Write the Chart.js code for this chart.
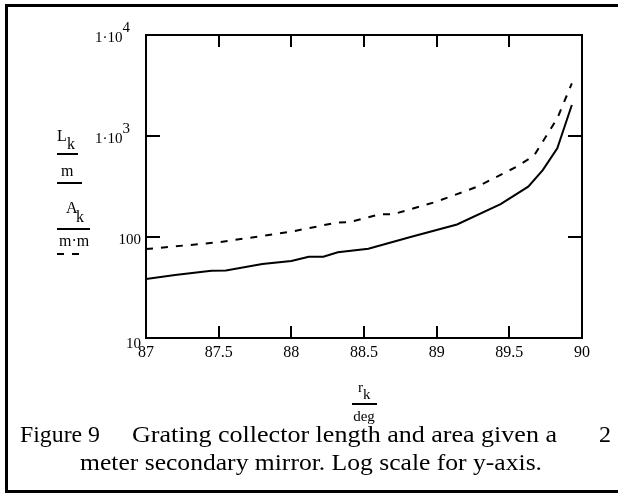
<!DOCTYPE html>
<html>
<head>
<meta charset="utf-8">
<script src="https://cdn.jsdelivr.net/npm/chart.js@4.4.1/dist/chart.umd.min.js"></script>
<style>
  html, body { margin: 0; padding: 0; background: #fff; }
  #wrap { position: relative; width: 618px; height: 494px; }
</style>
</head>
<body>
<div id="wrap"><canvas id="c" width="618" height="494"></canvas></div>
<script>
// ---- data ----
const lengthAngles = [87.0, 87.2, 87.45, 87.55, 87.8, 88.0, 88.12, 88.22, 88.32, 88.53, 88.82, 89.14, 89.44, 89.63, 89.73, 89.83, 89.93];
const lengthValues = [38.4, 42, 46.4, 46.6, 54, 57.8, 63.8, 63.8, 70.6, 76.6, 100, 133, 212, 315, 460, 755, 2030];
const areaAngles = [87.0, 87.5, 88.0, 88.31, 88.40, 88.61, 88.70, 89.0, 89.28, 89.55, 89.64, 89.68, 89.83, 89.93];
const areaValues = [76, 88.6, 113, 138.6, 140, 168, 168, 224, 315, 497, 600, 674, 1497, 3315];
const xTickValues = [87, 87.5, 88, 88.5, 89, 89.5, 90];
const xTickLabels = ["87", "87.5", "88", "88.5", "89", "89.5", "90"];
const yTickValues = [10, 100, 1000, 10000];
const yTickLabels = ["10", "100", "1·10^3", "1·10^4"];
const innerYTicks = [100, 1000];
const innerXTicks = [87.5, 88, 88.5, 89, 89.5];
const captionLine1a = "Figure 9";
const captionLine1b = "Grating collector length and area given a";
const captionLine1c = "2";
const captionLine2 = "meter secondary mirror. Log scale for y-axis.";

const SERIF = '"Liberation Serif", "Times New Roman", serif';

// draw text horizontally scaled to span [x0, x1]
function drawSpan(ctx, text, x0, x1, y) {
  const w = ctx.measureText(text).width;
  const sx = (x1 - x0) / w;
  ctx.save();
  ctx.translate(x0, y);
  ctx.scale(sx, 1);
  ctx.textAlign = 'left';
  ctx.fillText(text, 0, 0);
  ctx.restore();
}

const decor = {
  id: 'decor',
  afterDraw(chart) {
    const ctx = chart.ctx;
    const a = chart.chartArea;
    const xs = chart.scales.x, ys = chart.scales.y;
    ctx.save();
    ctx.strokeStyle = '#000';
    ctx.fillStyle = '#000';
    // outer frame
    ctx.lineWidth = 3;
    ctx.strokeRect(6.5, 5.5, 620, 486);
    // plot box
    ctx.lineWidth = 2;
    ctx.strokeRect(a.left, a.top, a.right - a.left, a.bottom - a.top);
    // inward ticks
    ctx.beginPath();
    innerYTicks.forEach(v => {
      const y = Math.round(ys.getPixelForValue(v));
      ctx.moveTo(a.left, y); ctx.lineTo(a.left + 14, y);
      ctx.moveTo(a.right, y); ctx.lineTo(a.right - 14, y);
    });
    innerXTicks.forEach(v => {
      const x = Math.round(xs.getPixelForValue(v));
      ctx.moveTo(x, a.bottom); ctx.lineTo(x, a.bottom - 12);
      ctx.moveTo(x, a.top); ctx.lineTo(x, a.top + 12);
    });
    ctx.stroke();
    // y tick labels (with exponents)
    ctx.textBaseline = 'alphabetic';
    yTickValues.forEach((v, i) => {
      const y = ys.getPixelForValue(v);
      const lab = yTickLabels[i];
      ctx.font = '15px ' + SERIF;
      ctx.textAlign = 'right';
      if (lab.includes('^')) {
        const [base, ex] = lab.split('^');
        const exRight = a.left - 16;
        ctx.fillText(ex, exRight, y - 3);
        const exW = ctx.measureText(ex).width;
        ctx.fillText(base, exRight - exW, y + 7);
      } else {
        ctx.fillText(lab, a.left - 5, y + (v === 10 ? 10 : 7));
      }
    });
    // left legend labels
    ctx.textAlign = 'left';
    ctx.font = '16px ' + SERIF;
    ctx.fillText('L', 57, 141);
    ctx.fillText('k', 67, 149);
    ctx.fillText('m', 61, 176);
    ctx.fillText('A', 66, 213);
    ctx.fillText('k', 76, 222);
    ctx.fillText('m·m', 59, 246);
    ctx.lineWidth = 2;
    ctx.beginPath();
    ctx.moveTo(57, 154); ctx.lineTo(78, 154);
    ctx.moveTo(57, 183); ctx.lineTo(82, 183);
    ctx.moveTo(57, 229); ctx.lineTo(90, 229);
    ctx.stroke();
    ctx.beginPath();
    ctx.moveTo(57, 254); ctx.lineTo(64, 254);
    ctx.moveTo(72, 254); ctx.lineTo(79, 254);
    ctx.stroke();
    // x axis label r_k / deg
    ctx.font = '15px ' + SERIF;
    ctx.fillText('r', 358, 392);
    ctx.fillText('k', 363, 399);
    ctx.beginPath();
    ctx.moveTo(352, 404); ctx.lineTo(377, 404);
    ctx.stroke();
    ctx.textAlign = 'center';
    ctx.fillText('deg', 364, 421);
    // caption
    ctx.font = '24px ' + SERIF;
    drawSpan(ctx, captionLine1a, 20, 100, 442);
    drawSpan(ctx, captionLine1b, 132, 557, 442);
    drawSpan(ctx, captionLine1c, 599, 611, 442);
    drawSpan(ctx, captionLine2, 80, 542, 470);
    ctx.restore();
  }
};

new Chart(document.getElementById('c'), {
  type: 'line',
  data: {
    datasets: [
      {
        label: 'L_k / m',
        data: lengthAngles.map((x, i) => ({ x: x, y: lengthValues[i] })),
        borderColor: '#000',
        borderWidth: 2,
        pointRadius: 0,
        fill: false,
        tension: 0
      },
      {
        label: 'A_k / m·m',
        data: areaAngles.map((x, i) => ({ x: x, y: areaValues[i] })),
        borderColor: '#000',
        borderWidth: 2,
        borderDash: [7, 8],
        pointRadius: 0,
        fill: false,
        tension: 0
      }
    ]
  },
  options: {
    responsive: false,
    animation: false,
    devicePixelRatio: 1,
    layout: { padding: { left: 0, top: 35, right: 36, bottom: 132 } },
    plugins: { legend: { display: false }, tooltip: { enabled: false } },
    scales: {
      x: {
        type: 'linear',
        min: 87, max: 90,
        afterBuildTicks: s => { s.ticks = xTickValues.map(v => ({ value: v })); },
        afterFit: s => { s.height = 24; },
        grid: { display: false, drawTicks: false },
        border: { display: false },
        ticks: {
          padding: 5,
          color: '#000',
          font: { family: SERIF, size: 16 },
          maxRotation: 0,
          autoSkip: false,
          callback: (v) => { const i = xTickValues.indexOf(v); return i >= 0 ? xTickLabels[i] : ''; }
        }
      },
      y: {
        type: 'logarithmic',
        min: 10, max: 10000,
        afterBuildTicks: s => { s.ticks = yTickValues.map(v => ({ value: v })); },
        afterFit: s => { s.width = 146; },
        grid: { display: false, drawTicks: false },
        border: { display: false },
        ticks: { display: false }
      }
    }
  },
  plugins: [decor]
});
</script>
</body>
</html>
